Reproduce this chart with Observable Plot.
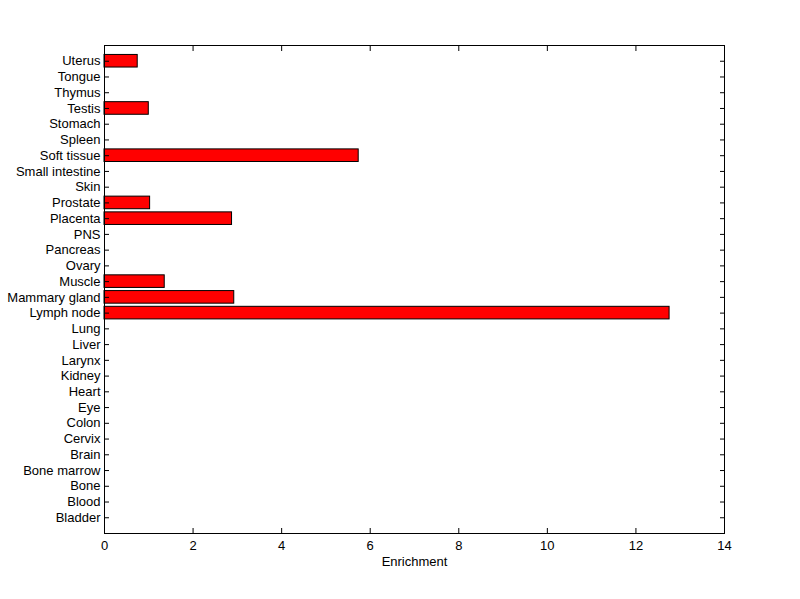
<!DOCTYPE html>
<html>
<head>
<meta charset="utf-8">
<script src="https://cdn.jsdelivr.net/npm/d3@7"></script>
<script src="https://cdn.jsdelivr.net/npm/@observablehq/plot@0.6"></script>
<style>
  html, body { margin: 0; padding: 0; background: #ffffff; }
  #chart svg { display: block; }
</style>
</head>
<body>
<div id="chart"></div>
<script>
// Tissues, listed top to bottom as in the chart
const tissues = [
  "Uterus", "Tongue", "Thymus", "Testis", "Stomach", "Spleen", "Soft tissue",
  "Small intestine", "Skin", "Prostate", "Placenta", "PNS", "Pancreas", "Ovary",
  "Muscle", "Mammary gland", "Lymph node", "Lung", "Liver", "Larynx", "Kidney",
  "Heart", "Eye", "Colon", "Cervix", "Brain", "Bone marrow", "Bone", "Blood", "Bladder"
];
// Enrichment values, same order
const enrichment = [
  0.75, 0, 0, 1.0, 0, 0, 5.74,
  0, 0, 1.03, 2.88, 0, 0, 0,
  1.36, 2.93, 12.76, 0, 0, 0, 0,
  0, 0, 0, 0, 0, 0, 0, 0, 0
];
const xTicks = [0, 2, 4, 6, 8, 10, 12, 14];
const xLabel = "Enrichment";

const data = tissues.map((t, i) => ({tissue: t, value: enrichment[i]}));

const chart = Plot.plot({
  width: 800,
  height: 599,
  marginLeft: 104,
  marginRight: 76,
  marginTop: 45,
  marginBottom: 66,
  style: {
    fontFamily: "Arial, 'Liberation Sans', Helvetica, sans-serif",
    fontSize: "13px",
    background: "#ffffff",
    color: "#000000"
  },
  x: {domain: [0, 14], ticks: xTicks},
  y: {type: "band", domain: tissues, paddingInner: 0.2, paddingOuter: 0.6, round: false},
  marks: [
    Plot.barX(data.filter(d => d.value > 0), {x: "value", y: "tissue", fill: "#ff0000", stroke: "#000000", strokeWidth: 1}),
    Plot.frame({stroke: "#000000", strokeWidth: 1}),
    Plot.axisY({anchor: "left", tickSize: 0, tickPadding: 4, label: null}),
    Plot.axisY({anchor: "left", tickSize: -5, fill: "none", label: null}),
    Plot.axisY({anchor: "right", tickSize: -5, fill: "none", label: null}),
    Plot.axisX({anchor: "top", ticks: xTicks, tickSize: -5, fill: "none", label: null}),
    Plot.axisX({anchor: "bottom", ticks: xTicks, tickSize: -5, fill: "none", label: null}),
    Plot.axisX({anchor: "bottom", ticks: xTicks, tickSize: 0, tickPadding: 7, label: null}),
    Plot.text([xLabel], {frameAnchor: "bottom", dy: 32, text: d => d, fill: "#000000"})
  ]
});
document.getElementById("chart").appendChild(chart);
</script>
</body>
</html>
